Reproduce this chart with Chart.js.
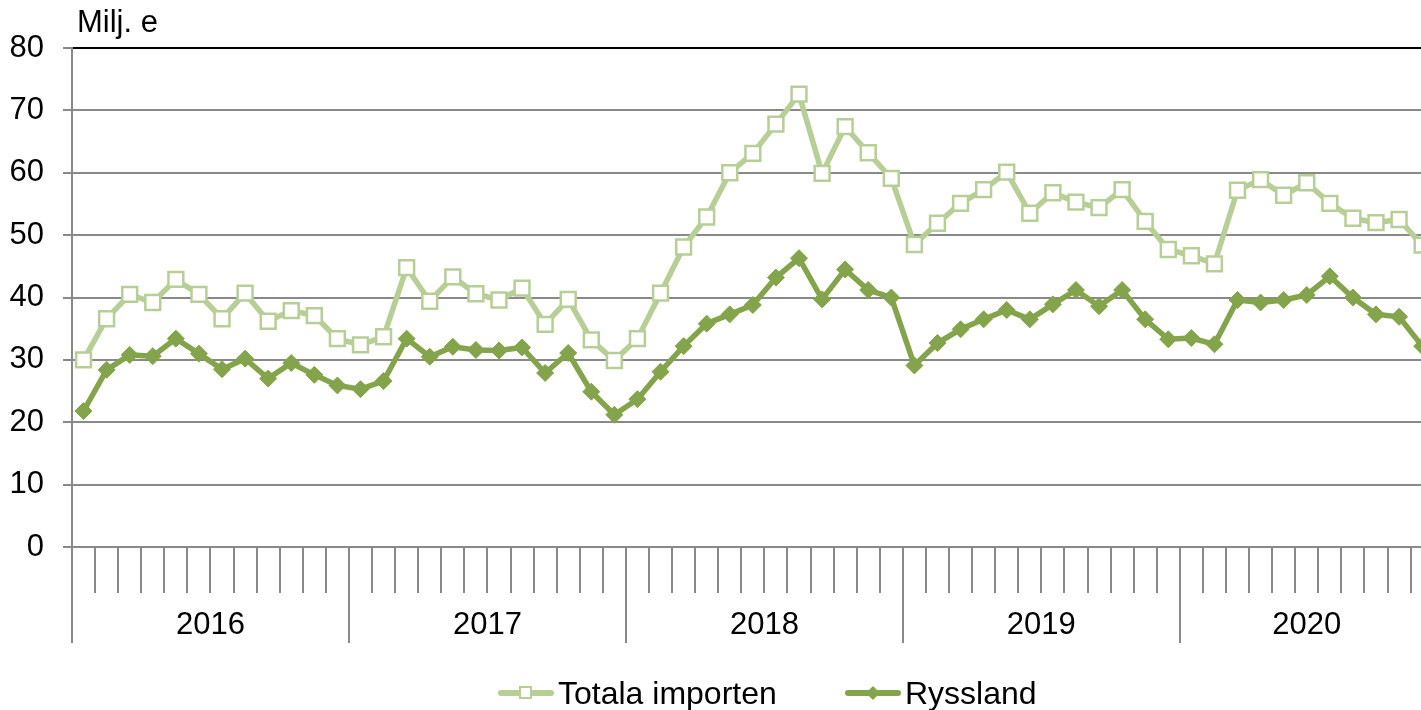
<!DOCTYPE html>
<html lang="sv">
<head>
  <meta charset="UTF-8"/>
  <title>Import – Milj. e</title>
  <script src="https://cdn.jsdelivr.net/npm/chart.js"></script>
  <style>
    html, body { margin: 0; padding: 0; background: #fff; overflow: hidden; }
    .wrap { position: relative; width: 1421px; height: 710px; overflow: hidden; }
    canvas { display: block; }
    .legend {
      position: absolute; top: 677px; left: 0;
      height: 32px; line-height: 32px;
      font-family: "Liberation Sans", Arial, sans-serif;
      font-size: 32px; color: #000;
    }
    .legend .item { position: absolute; top: 0; display: flex; align-items: center; white-space: nowrap; }
    .legend .mark { position: relative; width: 56px; height: 32px; margin-right: 4px; }
    .legend .mark .ln {
      position: absolute; left: 0; right: 0; top: 13px; height: 6px;
      border-radius: 3px;
    }
    .legend .mark .sq {
      position: absolute; left: 21px; top: 9px; width: 9px; height: 9px;
      background: #fff; border: 2.5px solid;
    }
    .legend .mark .dm {
      position: absolute; left: 23px; top: 11px; width: 10px; height: 10px;
      transform: rotate(45deg);
    }
  </style>
</head>
<body>
  <div class="wrap">
    <canvas id="chart" width="1421" height="710"></canvas>
    <div class="legend" id="legend"></div>
  </div>

  <script>
    // data
    const unitLabel = 'Milj. e';
    const years = ['2016', '2017', '2018', '2019', '2020'];
    const monthsPerYear = [12, 12, 12, 12, 11];
    const yTicks = [0, 10, 20, 30, 40, 50, 60, 70, 80];

    const totalImport = [
      30.0, 36.6, 40.5, 39.2, 42.9, 40.5, 36.6, 40.7, 36.2, 37.9, 37.1, 33.4,
      32.4, 33.7, 44.8, 39.4, 43.3, 40.6, 39.6, 41.5, 35.7, 39.7, 33.2, 29.9,
      33.4, 40.7, 48.1, 52.9, 60.0, 63.1, 67.8, 72.6, 59.9, 67.4, 63.2, 59.1,
      48.5, 51.9, 55.1, 57.3, 60.1, 53.5, 56.8, 55.3, 54.4, 57.3, 52.2, 47.7,
      46.7, 45.4, 57.2, 58.9, 56.4, 58.4, 55.1, 52.7, 52.0, 52.5, 48.4
    ];
    const russia = [
      21.8, 28.4, 30.8, 30.6, 33.4, 31.0, 28.5, 30.2, 27.0, 29.5, 27.6, 25.9,
      25.3, 26.6, 33.4, 30.5, 32.1, 31.6, 31.5, 32.0, 27.9, 31.1, 24.9, 21.2,
      23.7, 28.1, 32.2, 35.8, 37.3, 38.8, 43.2, 46.3, 39.7, 44.5, 41.2, 40.0,
      29.1, 32.7, 34.9, 36.5, 38.0, 36.5, 38.9, 41.2, 38.6, 41.2, 36.5, 33.3,
      33.5, 32.5, 39.6, 39.2, 39.6, 40.4, 43.4, 40.0, 37.3, 36.9, 32.2
    ];

    // month categories built from the year list
    const labels = [];
    years.forEach((y, i) => {
      for (let m = 1; m <= monthsPerYear[i]; m++) labels.push(y + '-' + String(m).padStart(2, '0'));
    });
    const toPoints = arr => arr.map((v, i) => ({ x: i, y: v }));

    const FONT = '"Liberation Sans", Arial, sans-serif';
    const GRID = '#898989';
    const LIGHT = '#b7cf96';
    const DARK = '#84a44c';

    // year ticks, year labels and unit label
    const yearAxis = {
      id: 'yearAxis',
      afterDraw(chart) {
        const { ctx, scales: { x }, chartArea } = chart;
        const top = chartArea.bottom;
        ctx.save();
        ctx.strokeStyle = GRID;
        ctx.lineWidth = 2;
        ctx.fillStyle = '#000';
        ctx.font = '31px ' + FONT;
        ctx.textAlign = 'center';
        ctx.textBaseline = 'alphabetic';
        let start = 0;
        years.forEach((yr, i) => {
          const n = monthsPerYear[i];
          const left = Math.round(x.getPixelForValue(start - 0.5));
          ctx.beginPath(); ctx.moveTo(left, top); ctx.lineTo(left, 643); ctx.stroke();
          ctx.fillText(yr, x.getPixelForValue(start + (n - 1) / 2), 634);
          start += n;
        });
        ctx.textAlign = 'left';
        ctx.fillText(unitLabel, 77, 32);
        ctx.restore();
      }
    };

    const chart = new Chart(document.getElementById('chart'), {
      type: 'line',
      data: {
        labels,
        datasets: [
          {
            label: 'Totala importen', data: toPoints(totalImport),
            borderColor: LIGHT, borderWidth: 5.5,
            pointStyle: 'rect', pointRadius: 10.5, pointHoverRadius: 10.5,
            pointBackgroundColor: '#fff', pointBorderColor: LIGHT, pointBorderWidth: 2.5,
            legendMark: 'sq'
          },
          {
            label: 'Ryssland', data: toPoints(russia),
            borderColor: DARK, borderWidth: 5.5,
            pointStyle: 'rectRot', pointRadius: 8.5, pointHoverRadius: 8.5,
            pointBackgroundColor: DARK, pointBorderColor: DARK, pointBorderWidth: 1,
            legendMark: 'dm'
          }
        ]
      },
      options: {
        responsive: false, animation: false,
        layout: { autoPadding: false, padding: { top: 48, bottom: 117, left: 0, right: 0 } },
        elements: { line: { tension: 0 } },
        scales: {
          x: {
            type: 'linear', min: -0.5, max: 57.95,
            afterBuildTicks: s => {
              s.ticks = labels.map((_, i) => ({ value: i - 0.5 })).filter(t => t.value <= s.max);
            },
            grid: { drawOnChartArea: false, color: GRID, lineWidth: 2, tickLength: 46 },
            border: { display: true, color: GRID, width: 2 },
            ticks: { display: false }
          },
          y: {
            min: 0, max: 80,
            afterBuildTicks: s => { s.ticks = yTicks.map(v => ({ value: v })); },
            afterFit: s => { s.width = 72; },
            grid: {
              color: c => (c.tick && c.tick.value === 80 ? '#000' : GRID),
              tickColor: GRID, lineWidth: 2, tickLength: 9
            },
            border: { display: true, color: GRID, width: 2 },
            ticks: { color: '#000', padding: 19, font: { family: FONT, size: 31 } }
          }
        },
        plugins: { legend: { display: false }, tooltip: { enabled: false } }
      },
      plugins: [yearAxis]
    });

    // legend below the chart
    const leg = document.getElementById('legend');
    const legendLeft = [498, 845];
    chart.data.datasets.forEach((ds, i) => {
      const item = document.createElement('div');
      item.className = 'item';
      item.style.left = legendLeft[i] + 'px';
      const mark = document.createElement('span');
      mark.className = 'mark';
      const ln = document.createElement('span');
      ln.className = 'ln';
      ln.style.background = ds.borderColor;
      const pt = document.createElement('span');
      pt.className = ds.legendMark;
      if (ds.legendMark === 'sq') pt.style.borderColor = ds.borderColor;
      else pt.style.background = ds.borderColor;
      mark.appendChild(ln);
      mark.appendChild(pt);
      item.appendChild(mark);
      item.appendChild(document.createTextNode(ds.label));
      leg.appendChild(item);
    });
  </script>
</body>
</html>
